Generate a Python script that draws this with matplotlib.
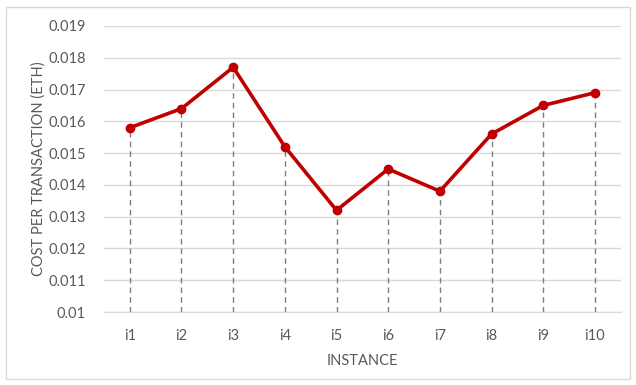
import matplotlib.pyplot as plt
from matplotlib.patches import Rectangle

# cost per transaction for each instance
instances = ['i1', 'i2', 'i3', 'i4', 'i5', 'i6', 'i7', 'i8', 'i9', 'i10']
cost = [0.0158, 0.0164, 0.0177, 0.0152, 0.0132, 0.0145, 0.0138, 0.0156, 0.0165, 0.0169]
yticks = [0.01, 0.011, 0.012, 0.013, 0.014, 0.015, 0.016, 0.017, 0.018, 0.019]
ytick_labels = ['0.01', '0.011', '0.012', '0.013', '0.014', '0.015', '0.016', '0.017', '0.018', '0.019']

plt.rcParams['font.family'] = ['Lato', 'DejaVu Sans']
txt = '#595959'

fig = plt.figure(figsize=(6.36, 3.85), dpi=100)
fig.patches.append(Rectangle((0.01, 0.015), 0.981, 0.966, transform=fig.transFigure,
                             fill=False, edgecolor='#D9D9D9', linewidth=1))
ax = fig.add_axes([0.1635, 0.1896, 0.8125, 0.7429])

x = list(range(len(instances)))
ymin = yticks[0]

# drop lines
ax.vlines(x, ymin, cost, colors='#7F7F7F', linestyles=(0, (4, 3)), linewidth=1, zorder=2)
ax.plot(x, cost, color='#C00000', linewidth=2.6, marker='o', markersize=6,
        markerfacecolor='#C00000', markeredgecolor='#C00000', zorder=3)

ax.set_xlim(-0.5, len(instances) - 0.5)
ax.set_ylim(yticks[0], yticks[-1])
ax.set_yticks(yticks)
ax.set_yticklabels(ytick_labels)
ax.set_xticks(x)
ax.set_xticklabels(instances)
ax.grid(axis='y', color='#D9D9D9', linewidth=1)
ax.set_axisbelow(True)
for s in ['top', 'right', 'left']:
    ax.spines[s].set_visible(False)
ax.spines['bottom'].set_color('#D9D9D9')
ax.tick_params(axis='both', length=0, colors=txt, labelsize=10.5)
ax.tick_params(axis='x', pad=12)
ax.tick_params(axis='y', pad=13)

ax.set_xlabel('INSTANCE', color=txt, fontsize=10.5, labelpad=8)
ax.set_ylabel('COST PER TRANSACTION (ETH)', color=txt, fontsize=10.5, labelpad=2)

fig.savefig('out.png', dpi=100)
